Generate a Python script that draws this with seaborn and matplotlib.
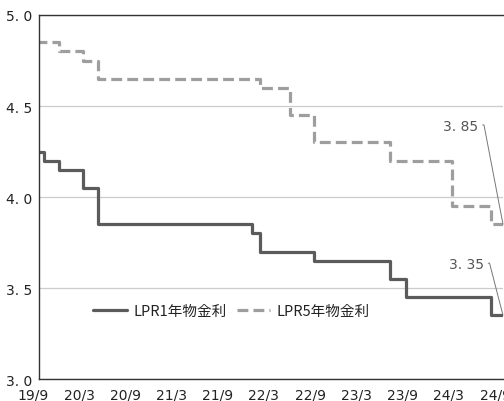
import matplotlib
matplotlib.use("Agg")
import matplotlib.pyplot as plt
import matplotlib.transforms as mtransforms
import pandas as pd
import seaborn as sns

# Loan Prime Rate change dates and levels (%)
dates_1y = ["2019-08-20", "2019-09-20", "2019-11-20", "2020-02-20", "2020-04-20",
            "2021-12-20", "2022-01-20", "2022-08-22", "2023-06-20", "2023-08-21",
            "2024-07-22"]
rates_1y = [4.25, 4.20, 4.15, 4.05, 3.85, 3.80, 3.70, 3.65, 3.55, 3.45, 3.35]

dates_5y = ["2019-08-20", "2019-11-20", "2020-02-20", "2020-04-20", "2022-01-20",
            "2022-05-20", "2022-08-22", "2023-06-20", "2024-02-20", "2024-07-22"]
rates_5y = [4.85, 4.80, 4.75, 4.65, 4.60, 4.45, 4.30, 4.20, 3.95, 3.85]

series_names = ["LPR1年物金利", "LPR5年物金利"]
end_date = "2024-09-08"
start_date = "2019-09-01"

tick_dates = ["2019-09-01", "2020-03-01", "2020-09-01", "2021-03-01", "2021-09-01",
              "2022-03-01", "2022-09-01", "2023-03-01", "2023-09-01", "2024-03-01",
              "2024-09-01"]
tick_labels = ["19/9", "20/3", "20/9", "21/3", "21/9", "22/3", "22/9", "23/3",
               "23/9", "24/3", "24/9"]
y_ticks = [3.0, 3.5, 4.0, 4.5, 5.0]
y_labels = ["3. 0", "3. 5", "4. 0", "4. 5", "5. 0"]

sns.set_theme(style="white")
plt.rcParams["font.family"] = ["Noto Sans CJK JP", "DejaVu Sans"]


def step_frame(dates, rates, name):
    d = list(pd.to_datetime(dates)) + [pd.Timestamp(end_date)]
    r = list(rates) + [rates[-1]]
    return pd.DataFrame({"date": d, "rate": r, "series": name})


df = pd.concat([step_frame(dates_1y, rates_1y, series_names[0]),
                step_frame(dates_5y, rates_5y, series_names[1])],
               ignore_index=True)

fig = plt.figure(figsize=(5.04, 4.02), dpi=100)
ax = fig.add_axes([0.0774, 0.0547, 0.9206, 0.9055])

palette = {series_names[0]: "#5b5b5b", series_names[1]: "#9e9e9e"}
sns.lineplot(data=df, x="date", y="rate", hue="series", style="series",
             palette=palette, dashes={series_names[0]: "", series_names[1]: (3.4, 1.6)},
             drawstyle="steps-post", linewidth=2.3, ax=ax, legend=True)

ax.set_xlim(pd.Timestamp(start_date), pd.Timestamp(end_date))
ax.set_ylim(3.0, 5.0)
ax.set_xlabel("")
ax.set_ylabel("")

ax.set_xticks(pd.to_datetime(tick_dates))
ax.set_xticklabels(tick_labels, fontsize=10, family=["DejaVu Sans"], color="#222222")
ax.set_yticks(y_ticks)
ax.set_yticklabels(y_labels, fontsize=10, family=["DejaVu Sans"], color="#222222")
ax.tick_params(axis="x", direction="out", length=4, width=1, color="#333333", pad=2)
ax.tick_params(axis="y", length=0, pad=5)

# date labels sit slightly left of their tick marks
shift = mtransforms.ScaledTranslation(-6 / 100, 0, fig.dpi_scale_trans)
for tick in ax.xaxis.get_major_ticks():
    tick.label1.set_transform(tick.label1.get_transform() + shift)

ax.yaxis.grid(True, color="#cccccc", linewidth=0.9)
ax.xaxis.grid(False)
for side in ["left", "bottom", "top"]:
    ax.spines[side].set_visible(True)
    ax.spines[side].set_color("#333333")
    ax.spines[side].set_linewidth(1.0)
ax.spines["right"].set_visible(False)

# end-of-series value labels with leader lines
last_date = pd.Timestamp(end_date)
leader = dict(arrowstyle="-", color="#777777", lw=0.7, shrinkA=1, shrinkB=0,
              relpos=(1.0, 0.55),
              connectionstyle="arc,angleA=0,angleB=90,armA=6,armB=0,rad=0")
ax.annotate(f"{rates_5y[-1]:.2f}".replace(".", ". "), xy=(last_date, rates_5y[-1]),
            xytext=(-18, 71), textcoords="offset points", ha="right", va="center",
            fontsize=10, color="#555555", family=["DejaVu Sans"], arrowprops=leader)
ax.annotate(f"{rates_1y[-1]:.2f}".replace(".", ". "), xy=(last_date, rates_1y[-1]),
            xytext=(-14, 37), textcoords="offset points", ha="right", va="center",
            fontsize=10, color="#555555", family=["DejaVu Sans"], arrowprops=leader)

leg = ax.legend(loc="center", bbox_to_anchor=(0.415, 0.187), ncol=2, frameon=False,
                fontsize=10.5, handlelength=2.3, handletextpad=0.45, columnspacing=0.7,
                title=None)
for t in leg.get_texts():
    t.set_color("#222222")

fig.savefig("out.png", dpi=100)
